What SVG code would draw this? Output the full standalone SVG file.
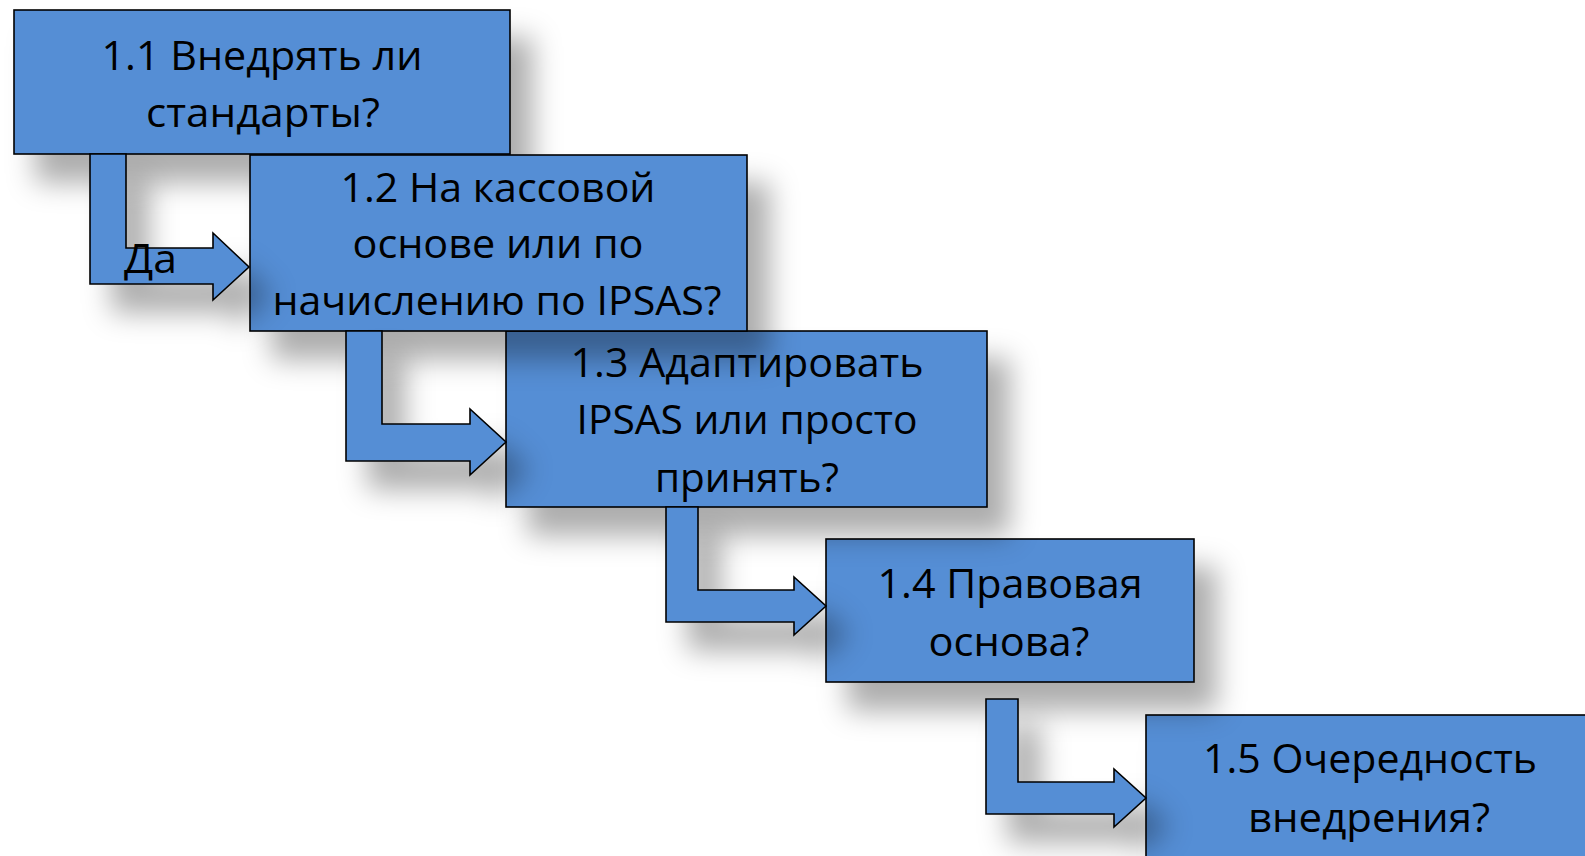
<svg xmlns="http://www.w3.org/2000/svg" width="1585" height="856" viewBox="0 0 1585 856">
  <defs>
    <filter id="sh" x="-25%" y="-25%" width="160%" height="180%" color-interpolation-filters="sRGB">
      <feGaussianBlur in="SourceAlpha" stdDeviation="14"/>
      <feOffset dx="22" dy="28" result="o"/>
      <feFlood flood-color="#000" flood-opacity="0.32"/>
      <feComposite in2="o" operator="in"/>
      <feMerge>
        <feMergeNode/>
        <feMergeNode in="SourceGraphic"/>
      </feMerge>
    </filter>
  </defs>
  <style>
    .box { fill: #558ed5; stroke: #000; stroke-width: 1.6; filter: url(#sh); }
    .arr { fill: #558ed5; stroke: #000; stroke-width: 1.6; stroke-linejoin: miter; filter: url(#sh); }
    .t { font-family: "Open Sans", "Noto Sans", "DejaVu Sans", sans-serif; font-size: 40px; fill: #000; text-anchor: middle; }
    .lbl { font-family: "Open Sans", "Noto Sans", "DejaVu Sans", sans-serif; font-size: 40px; fill: #000; }
  </style>
  <rect width="1585" height="856" fill="#fff"/>

  <g id="node-1-1">
    <rect class="box" x="14" y="10" width="496" height="144"/>
    <text class="t" x="262" y="70" textLength="321" lengthAdjust="spacingAndGlyphs">1.1 Внедрять ли</text>
    <text class="t" x="263" y="127" textLength="234" lengthAdjust="spacingAndGlyphs">стандарты?</text>
  </g>

  <g id="node-1-5">
    <rect class="box" x="1146" y="715" width="448" height="144"/>
    <text class="t" x="1370" y="773" textLength="334" lengthAdjust="spacingAndGlyphs">1.5 Очередность</text>
    <text class="t" x="1369" y="832" textLength="242" lengthAdjust="spacingAndGlyphs">внедрения?</text>
  </g>

  <g id="node-1-4">
    <rect class="box" x="826" y="539" width="368" height="143"/>
    <text class="t" x="1010" y="598" textLength="265" lengthAdjust="spacingAndGlyphs">1.4 Правовая</text>
    <text class="t" x="1009" y="656" textLength="161" lengthAdjust="spacingAndGlyphs">основа?</text>
  </g>

  <g id="node-1-3">
    <rect class="box" x="506" y="331" width="481" height="176"/>
    <text class="t" x="747" y="377" textLength="353" lengthAdjust="spacingAndGlyphs">1.3 Адаптировать</text>
    <text class="t" x="747" y="434" textLength="341" lengthAdjust="spacingAndGlyphs">IPSAS или просто</text>
    <text class="t" x="747" y="492" textLength="184" lengthAdjust="spacingAndGlyphs">принять?</text>
  </g>

  <g id="node-1-2">
    <rect class="box" x="250" y="155" width="497" height="176"/>
    <text class="t" x="498" y="202" textLength="315" lengthAdjust="spacingAndGlyphs">1.2 На кассовой</text>
    <text class="t" x="498" y="258" textLength="291" lengthAdjust="spacingAndGlyphs">основе или по</text>
    <text class="t" x="497" y="315" textLength="449" lengthAdjust="spacingAndGlyphs">начислению по IPSAS?</text>
  </g>

  <g id="connectors">
    <path class="arr" d="M90,154 V284 H213 V300 L249,267 L213,233 V248 H126 V154 Z"/>
    <text class="lbl" x="124" y="273" textLength="53" lengthAdjust="spacingAndGlyphs">Да</text>
    <path class="arr" d="M346,331 V461 H470 V475 L506,442 L470,409 V424 H382 V331 Z"/>
    <path class="arr" d="M666,507 V622 H794 V635 L826,606 L794,577 V590 H698 V507 Z"/>
    <path class="arr" d="M986,699 V814 H1114 V827 L1146,798 L1114,769 V782 H1018 V699 Z"/>
  </g>
</svg>
